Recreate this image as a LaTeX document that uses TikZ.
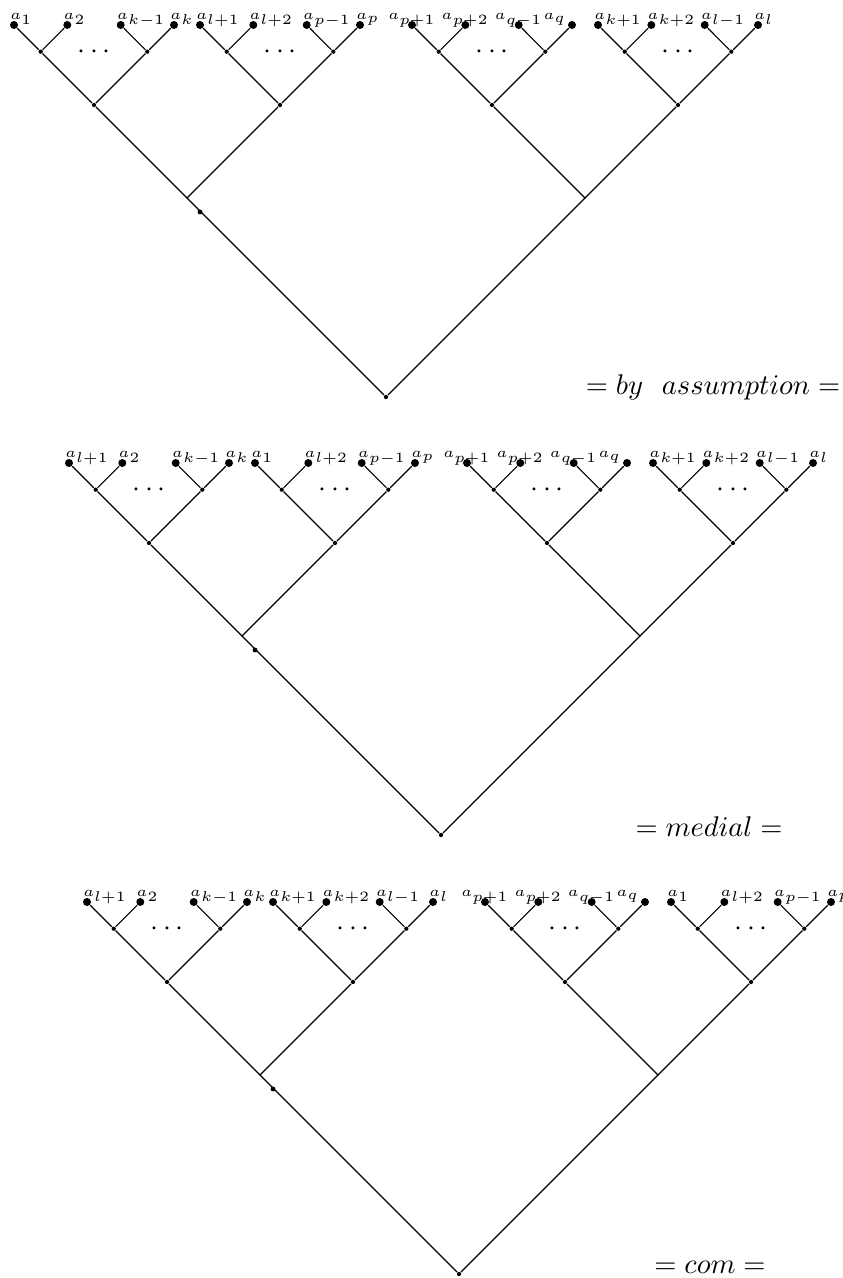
\documentclass[tikz,border=0pt]{standalone}
\usetikzlibrary{calc}

% one block of four leaves: name, first leaf x/y, label styles, four indices
\newcommand{\subtree}[9]{%
  \node[leaf] (#1a) at (#2,#3) {};
  \node[leaf] (#1b) at (#2+53.3,#3) {};
  \node[leaf] (#1c) at (#2+106.7,#3) {};
  \node[leaf] (#1d) at (#2+160,#3) {};
  \node[knot] (#1ab) at (#2+26.7,#3+26.7) {};
  \node[knot] (#1cd) at (#2+133.3,#3+26.7) {};
  \node[knot] (#1r) at (#2+80,#3+80) {};
  \node[#4] (#1la) at (#1a) {$a_{#6}$};
  \node[#4] (#1lb) at (#1b) {$a_{#7}$};
  \node[#4] (#1lc) at (#1c) {$a_{#8}$};
  \node[#5] (#1ld) at (#1d) {$a_{#9}$};
  \node (#1dots) at ($(#1ab)!0.5!(#1cd)$) {$\cdots$};
  \draw (#1a) -- (#1ab) -- (#1b);
  \draw (#1c) -- (#1cd) -- (#1d);
  \draw (#1ab) -- (#1r) -- (#1cd);
}

% the two junctions, the root and the stray dot
\newcommand{\joinblocks}[1]{%
  \coordinate (#1jl) at ($(#11r)!0.5!(#12r)+(0,93)$);
  \coordinate (#1jr) at ($(#13r)!0.5!(#14r)+(0,93)$);
  \node[knot] (#1root) at ($(#1jl)!0.5!(#1jr)+(0,199)$) {};
  \node[knot, minimum size=1.7pt] (#1dot) at ($(#1jl)+(13,14)$) {};
  \draw (#11r) -- (#1jl) -- (#12r);
  \draw (#13r) -- (#1jr) -- (#14r);
  \draw (#1jl) -- (#1root) -- (#1jr);
}

\begin{document}
\begin{tikzpicture}[x=0.3514pt, y=-0.3514pt,
  leaf/.style={circle, fill=black, inner sep=0pt, minimum size=2.8pt},
  knot/.style={circle, fill=black, inner sep=0pt, minimum size=1.5pt},
  lblw/.style={font=\tiny, inner sep=0pt, anchor=base west, xshift=-1.5pt, yshift=1.8pt},
  lblc/.style={font=\tiny, inner sep=0pt, anchor=base, xshift=0pt, yshift=1.8pt},
  lble/.style={font=\tiny, inner sep=0pt, anchor=base east, xshift=-1.9pt, yshift=1.8pt}]
  \useasboundingbox (0,0) rectangle (842,1278);

  \begin{scope}
    \subtree{A1}{14}{25}{lblw}{lblw}{1}{2}{k-1}{k}
    \subtree{A2}{200}{25}{lblw}{lblw}{l+1}{l+2}{p-1}{p}
    \subtree{A3}{412}{25}{lblc}{lble}{p+1}{p+2}{q-1}{q}
    \subtree{A4}{598}{25}{lblw}{lblw}{k+1}{k+2}{l-1}{l}
    \joinblocks{A}
  \end{scope}
  \node[anchor=base] (eqassume) at (713,395) {$= by\ \ assumption =$};

  \begin{scope}[shift={(55,438)}]
    \subtree{B1}{14}{25}{lblw}{lblw}{l+1}{2}{k-1}{k}
    \subtree{B2}{200}{25}{lblw}{lblw}{1}{l+2}{p-1}{p}
    \subtree{B3}{412}{25}{lblc}{lble}{p+1}{p+2}{q-1}{q}
    \subtree{B4}{598}{25}{lblw}{lblw}{k+1}{k+2}{l-1}{l}
    \joinblocks{B}
  \end{scope}
  \node[anchor=base] (eqmedial) at (709,836) {$= medial =$};

  \begin{scope}[shift={(73,877)}]
    \subtree{C1}{14}{25}{lblw}{lblw}{l+1}{2}{k-1}{k}
    \subtree{C2}{200}{25}{lblw}{lblw}{k+1}{k+2}{l-1}{l}
    \subtree{C3}{412}{25}{lblc}{lble}{p+1}{p+2}{q-1}{q}
    \subtree{C4}{598}{25}{lblw}{lblw}{1}{l+2}{p-1}{p}
    \joinblocks{C}
  \end{scope}
  \node[anchor=base] (eqcom) at (710,1273) {$= com =$};
\end{tikzpicture}
\end{document}
